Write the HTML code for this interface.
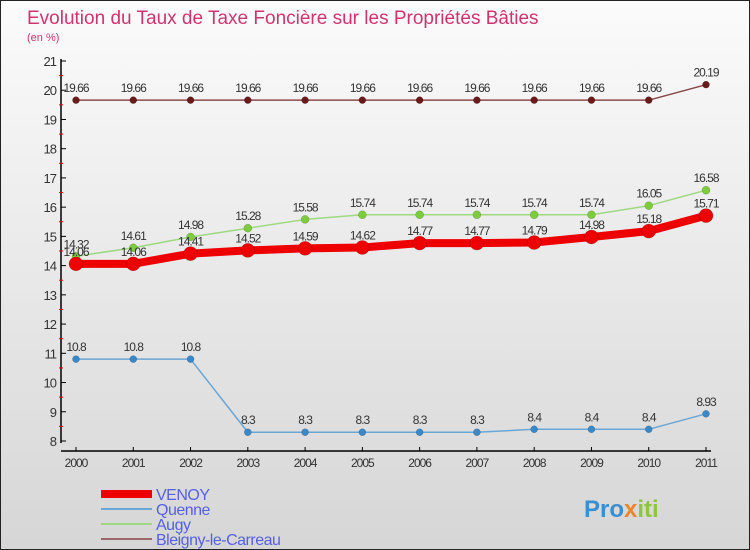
<!DOCTYPE html>
<html><head><meta charset="utf-8"><style>
body{margin:0}
#c{position:relative;width:748px;height:548px;border:1px solid #222;background:linear-gradient(#fbfbfb,#d6d6d6);font-family:"Liberation Sans",sans-serif;overflow:hidden}
</style></head><body>
<div id="c">
<svg id="s" width="748" height="548" xmlns="http://www.w3.org/2000/svg">
<text x="26" y="23" font-size="19" fill="#d2336e">Evolution du Taux de Taxe Foncière sur les Propriétés Bâties</text>
<text x="26" y="40" font-size="11" fill="#d2336e">(en %)</text>
<g><text x="583" y="516" font-size="24" font-weight="bold" fill="#3a8fd0">Pro<tspan fill="#e8882a">x</tspan><tspan fill="#8cc63f">iti</tspan></text></g>
</svg>
</div>
<script>
const years=["2000","2001","2002","2003","2004","2005","2006","2007","2008","2009","2010","2011"];
const venoy=[14.06,14.06,14.41,14.52,14.59,14.62,14.77,14.77,14.79,14.98,15.18,15.71];
const quenne=[10.8,10.8,10.8,8.3,8.3,8.3,8.3,8.3,8.4,8.4,8.4,8.93];
const augy=[14.32,14.61,14.98,15.28,15.58,15.74,15.74,15.74,15.74,15.74,16.05,16.58];
const bleigny=[19.66,19.66,19.66,19.66,19.66,19.66,19.66,19.66,19.66,19.66,19.66,20.19];
const yTicks=[8,9,10,11,12,13,14,15,16,17,18,19,20,21];
const NS="http://www.w3.org/2000/svg",s=document.getElementById('s');
const X=i=>75+i*(630/11), Y=v=>440-(v-8)*(380/13);
function mk(t,a,p){const e=document.createElementNS(NS,t);for(const k in a)e.setAttribute(k,a[k]);(p||s).appendChild(e);return e;}
// axes
let ax=mk('line',{x1:60,y1:58,x2:60,y2:442,stroke:'#000','stroke-width':1.5});


let xa=mk('line',{x1:60,y1:450,x2:710,y2:450,stroke:'#000','stroke-width':1.5});


yTicks.forEach(v=>{
  mk('line',{x1:60,y1:Y(v),x2:65,y2:Y(v),stroke:'#000'});
  if(v<21)mk('line',{x1:58,y1:Y(v+0.5),x2:62,y2:Y(v+0.5),stroke:'#e00'});
  const t=mk('text',{x:55,y:Y(v)+5,'font-size':13,'text-anchor':'end',fill:'#333','letter-spacing':'-1'});t.textContent=v;
  
  
});
years.forEach((y,i)=>{
  mk('line',{x1:X(i),y1:446,x2:X(i),y2:450,stroke:'#000'});
  const t=mk('text',{x:X(i),y:466,'font-size':12,'text-anchor':'middle',fill:'#333','letter-spacing':'-1'});t.textContent=y;
  
  
});
function series(name,d,col,w,r,dot){
  const g=mk('g',{});
  
  
  mk('polyline',{points:d.map((v,i)=>X(i)+','+Y(v)).join(' '),fill:'none',stroke:col,'stroke-width':w,'stroke-linejoin':'round'},g);
  d.forEach((v,i)=>{
    const c=mk('circle',{cx:X(i),cy:Y(v),r:r,fill:dot,stroke:'#0004','stroke-width':0.5},g);
    
    
    const t=mk('text',{x:X(i),y:Y(v)-8,'font-size':12,'text-anchor':'middle',fill:'#333','letter-spacing':'-1'},g);
    t.textContent=v;
  });
}
series('bleigny',bleigny,'#8a4a4a',1.5,3.5,'#6b1a1a');
series('quenne',quenne,'#6aa6d6',1.5,3.5,'#3a88c8');
series('augy',augy,'#9ed880',1.5,4,'#7ccc3c');
series('venoy',venoy,'#ee0000',8,7,'#ee0000');
// legend
const leg=[['VENOY','#ee0000',8],['Quenne','#6aa6d6',2],['Augy','#9ed880',2],['Bleigny-le-Carreau','#9a6666',2]];
leg.forEach((l,i)=>{
  const g=mk('g',{});
  
  
  const y=493+i*15;
  mk('line',{x1:100,y1:y,x2:151,y2:y,stroke:l[1],'stroke-width':l[2]},g);
  const t=mk('text',{x:155,y:y+6,'font-size':16,fill:'#5560e8','letter-spacing':'-0.5'},g);t.textContent=l[0];
});
</script>
</body></html>
